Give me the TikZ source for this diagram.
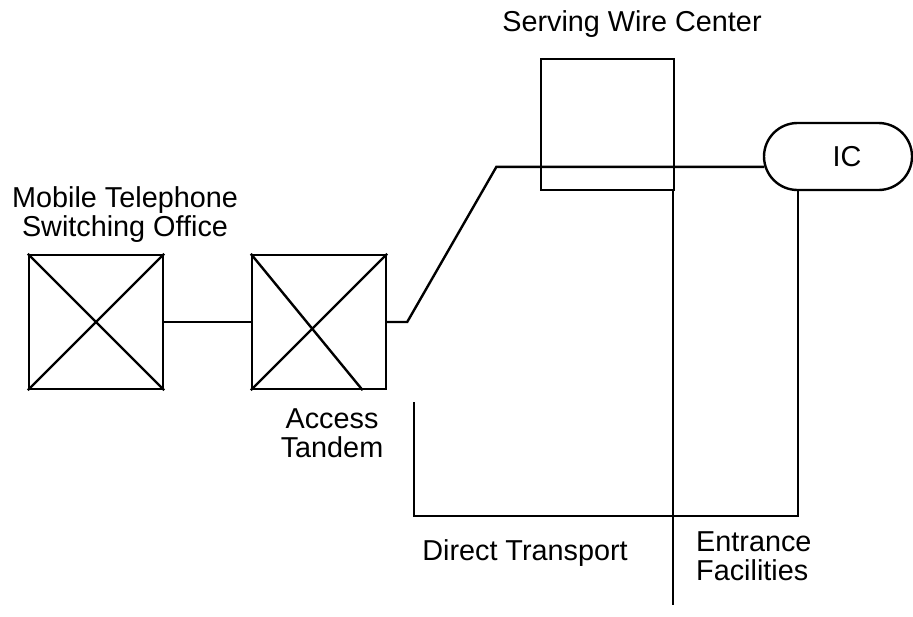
\documentclass[tikz,border=0pt]{standalone}
\usepackage{fontspec}
\setmainfont{Liberation Sans}
\usetikzlibrary{calc,shapes.misc}

\begin{document}
\begin{tikzpicture}[x=0.5pt,y=-0.5pt,line width=1.2pt,
  every node/.style={font=\fontsize{14.4}{14.25}\selectfont},
  xbox/.style={draw,minimum size=67pt,inner sep=0pt},
  lbl/.style={align=center,inner sep=0pt,anchor=base}]
\useasboundingbox (0,0) rectangle (913,616);

% switches
\node[xbox] (mtso) at (96,322) {};
\node[xbox] (at) at (319,322) {};
\draw (mtso.north west) -- (mtso.south east) (mtso.south west) -- (mtso.north east);
\draw (at.north west) -- ($(at.south west)!0.82!(at.south east)$) (at.south west) -- (at.north east);

% serving wire center and carrier
\node[draw,minimum width=66.5pt,minimum height=65.5pt,inner sep=0pt] (swc) at (607.5,124.5) {};
\node[draw,rounded rectangle,minimum width=74pt,minimum height=33.5pt,inner sep=0pt] (ic) at (838,156.5) {\hspace*{9pt}IC};

% trunk from the tandem
\coordinate (bend1) at ($(at.east)+(20,0)$);
\coordinate (bend2) at ($(ic.188)+(-268,0)$);
\draw (mtso.east) -- (at.west);
\draw (at.east) -- (bend1) -- (bend2) -- (ic.188);

% direct transport and entrance facilities
\coordinate (swcfoot) at (673,605);
\coordinate (dttop) at (414,402);
\coordinate (dtcorner) at (414,516);
\coordinate (efcorner) at (798,516);
\draw (swc.south east -| swcfoot) -- (swcfoot);
\draw (dttop) -- (dtcorner) -- (efcorner) -- (ic.south -| efcorner);

% labels
\node[lbl] (mtsolbl) at (125,236) {Mobile Telephone\\Switching Office};
\node[lbl] (atlbl) at (332,457) {Access\\Tandem};
\node[lbl] (swclbl) at (632,31) {Serving Wire Center};
\node[lbl] (dtlbl) at (525,560) {Direct Transport};
\node[lbl,align=left,anchor=base west] (eflbl) at (695,580) {Entrance\\Facilities};

\end{tikzpicture}
\end{document}
